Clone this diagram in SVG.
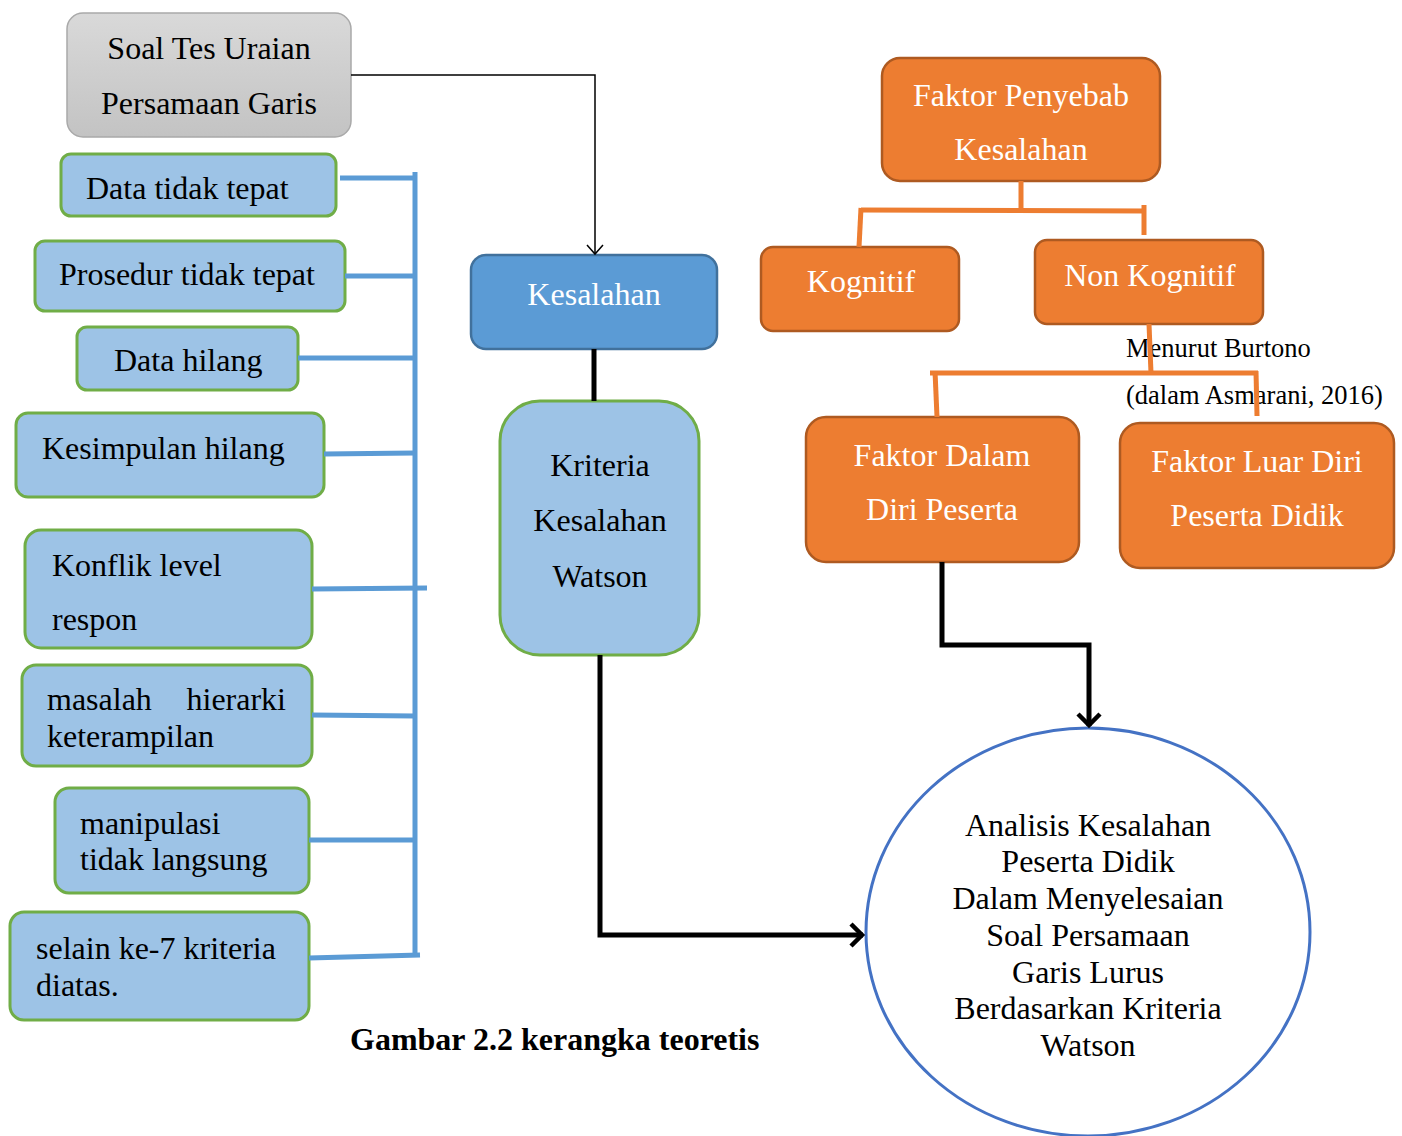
<svg xmlns="http://www.w3.org/2000/svg" width="1402" height="1136" viewBox="0 0 1402 1136">
<defs>
<linearGradient id="gray" x1="0" y1="0" x2="0" y2="1">
<stop offset="0" stop-color="#d9d9d9"/>
<stop offset="1" stop-color="#c3c3c3"/>
</linearGradient>
<marker id="thinArrow" markerWidth="20" markerHeight="20" refX="10" refY="10" orient="auto" markerUnits="userSpaceOnUse">
<path d="M1,2 L10,10 L1,18" fill="none" stroke="#000" stroke-width="1.5"/>
</marker>
<marker id="thickArrow" markerWidth="30" markerHeight="30" refX="15" refY="15" orient="auto" markerUnits="userSpaceOnUse">
<path d="M3,4 L14,15 L3,26" fill="none" stroke="#000" stroke-width="4.5"/>
</marker>
</defs>
<style>
text{font-family:"Liberation Serif","Times New Roman",serif;font-size:32px;}
.c{text-anchor:middle;}
.w{fill:#fff;}
.crit rect{fill:#9dc3e6;stroke:#70ad47;stroke-width:3;}
.org rect{fill:#ed7d31;stroke:#ae5a21;stroke-width:2.5;}
.blue{stroke:#5b9bd5;stroke-width:5;fill:none;}
.orl{stroke:#ed7d31;stroke-width:5;fill:none;}
.blk{stroke:#000;stroke-width:5;fill:none;}
</style>
<rect width="1402" height="1136" fill="#fff"/>

<g id="soal">
<rect x="67" y="13" width="284" height="124" rx="16" fill="url(#gray)" stroke="#a9a9a9" stroke-width="1.5"/>
<text x="209" y="59" class="c">Soal Tes Uraian</text>
<text x="209" y="114" class="c">Persamaan Garis</text>
</g>

<g id="kesalahan">
<rect x="471" y="255" width="246" height="94" rx="15" fill="#5b9bd5" stroke="#41719c" stroke-width="2.5"/>
<text x="594" y="305" class="c w">Kesalahan</text>
</g>

<g id="kriteria" class="crit">
<rect x="500" y="401" width="199" height="254" rx="40"/>
<text x="600" y="476" class="c">Kriteria</text>
<text x="600" y="531" class="c">Kesalahan</text>
<text x="600" y="587" class="c">Watson</text>
</g>

<g id="c1" class="crit"><rect x="61" y="154" width="275" height="62" rx="10"/><text x="86" y="199">Data tidak tepat</text></g>
<g id="c2" class="crit"><rect x="35" y="241" width="310" height="70" rx="10"/><text x="59" y="285">Prosedur tidak tepat</text></g>
<g id="c3" class="crit"><rect x="77" y="327" width="221" height="63" rx="10"/><text x="114" y="371">Data hilang</text></g>
<g id="c4" class="crit"><rect x="16" y="413" width="308" height="84" rx="12"/><text x="42" y="459">Kesimpulan hilang</text></g>
<g id="c5" class="crit"><rect x="25" y="530" width="287" height="118" rx="16"/><text x="52" y="576">Konflik level</text><text x="52" y="630">respon</text></g>
<g id="c6" class="crit"><rect x="22" y="665" width="290" height="101" rx="14"/><text x="47" y="710">masalah</text><text x="286" y="710" text-anchor="end">hierarki</text><text x="47" y="747">keterampilan</text></g>
<g id="c7" class="crit"><rect x="55" y="788" width="254" height="105" rx="14"/><text x="80" y="834">manipulasi</text><text x="80" y="870">tidak langsung</text></g>
<g id="c8" class="crit"><rect x="10" y="912" width="299" height="108" rx="14"/><text x="36" y="959">selain ke-7 kriteria</text><text x="36" y="996">diatas.</text></g>

<g id="faktor-penyebab" class="org">
<rect x="882" y="58" width="278" height="123" rx="18"/>
<text x="1021" y="106" class="c w">Faktor Penyebab</text>
<text x="1021" y="160" class="c w">Kesalahan</text>
</g>
<g id="kognitif" class="org">
<rect x="761" y="247" width="198" height="84" rx="12"/>
<text x="861" y="292" class="c w">Kognitif</text>
</g>
<g id="non-kognitif" class="org">
<rect x="1035" y="240" width="228" height="84" rx="12"/>
<text x="1150" y="286" class="c w">Non Kognitif</text>
</g>
<g id="faktor-dalam" class="org">
<rect x="806" y="417" width="273" height="145" rx="20"/>
<text x="942" y="466" class="c w">Faktor Dalam</text>
<text x="942" y="520" class="c w">Diri Peserta</text>
</g>
<g id="faktor-luar" class="org">
<rect x="1120" y="423" width="274" height="145" rx="20"/>
<text x="1257" y="472" class="c w">Faktor Luar Diri</text>
<text x="1257" y="526" class="c w">Peserta Didik</text>
</g>

<g id="analisis">
<ellipse cx="1088" cy="932" rx="222" ry="204" fill="#fff" stroke="#4472c4" stroke-width="3"/>
<text x="1088" y="836" class="c">Analisis Kesalahan</text>
<text x="1088" y="872" class="c">Peserta Didik</text>
<text x="1088" y="909" class="c">Dalam Menyelesaian</text>
<text x="1088" y="946" class="c">Soal Persamaan</text>
<text x="1088" y="983" class="c">Garis Lurus</text>
<text x="1088" y="1019" class="c">Berdasarkan Kriteria</text>
<text x="1088" y="1056" class="c">Watson</text>
</g>

<g id="labels">
<text x="1126" y="357" style="font-size:26.5px">Menurut Burtono</text>
<text x="1126" y="404" style="font-size:26.5px">(dalam Asmarani, 2016)</text>
<text x="350" y="1050" style="font-weight:bold;font-size:32px">Gambar 2.2 kerangka teoretis</text>
</g>

<g id="connectors">
<path d="M351,75 H595 V254" fill="none" stroke="#000" stroke-width="1.5" marker-end="url(#thinArrow)"/>
<path d="M594,349 V401" class="blk"/>
<path d="M600,655 V935 H863" class="blk" marker-end="url(#thickArrow)"/>
<path d="M942,562 V645 H1089 V726" class="blk" marker-end="url(#thickArrow)"/>
<path d="M415,172 V956" class="blue"/>
<path d="M340,178 H415" class="blue"/>
<path d="M345,276 H415" class="blue"/>
<path d="M298,358 H415" class="blue"/>
<path d="M324,454 L415,453" class="blue"/>
<path d="M312,589 L427,588" class="blue"/>
<path d="M312,715 L415,716" class="blue"/>
<path d="M309,840 H415" class="blue"/>
<path d="M309,958 L420,955" class="blue"/>
<path d="M1021,181 V210" class="orl"/>
<path d="M861,210 L1145,211" class="orl"/>
<path d="M861,208 L859,247" class="orl"/>
<path d="M1144,205 V235" class="orl"/>
<path d="M1149,324 L1151,373" class="orl"/>
<path d="M930,373 H1258" class="orl"/>
<path d="M935,371 L937,417" class="orl"/>
<path d="M1256,371 L1257,416" class="orl"/>
</g>
</svg>
